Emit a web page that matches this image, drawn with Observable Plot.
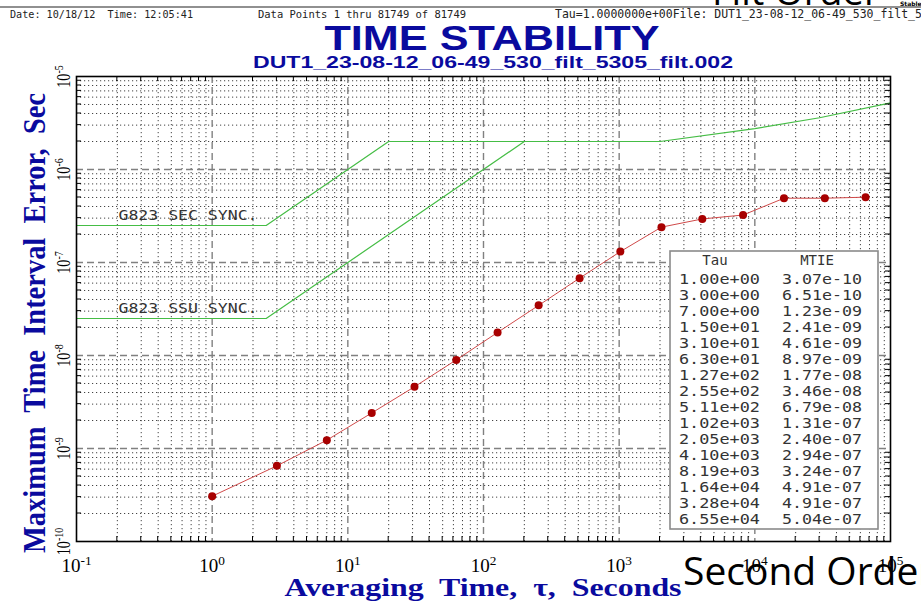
<!DOCTYPE html>
<html><head><meta charset="utf-8">
<script src="https://cdn.jsdelivr.net/npm/d3@7"></script>
<script src="https://cdn.jsdelivr.net/npm/@observablehq/plot@0.6"></script>
<style>html,body{margin:0;padding:0;background:#fff;overflow:hidden;} svg{display:block}</style>
</head><body><div id="chart"></div>
<script>
// ---- data ----
const tau  = [1, 3, 7, 15, 31, 63, 127, 255, 511, 1020, 2050, 4100, 8190, 16400, 32800, 65500];
const mtie = [3.07e-10, 6.51e-10, 1.23e-9, 2.41e-9, 4.61e-9, 8.97e-9, 1.77e-8, 3.46e-8, 6.79e-8, 1.31e-7, 2.40e-7, 2.94e-7, 3.24e-7, 4.91e-7, 4.91e-7, 5.04e-7];
const secMaskTau = [0.1, 2.5, 20, 2000, 10000, 30000, 100000];
const secMaskVal = [2.5e-7, 2.5e-7, 2e-6, 2e-6, 2.75e-6, 3.6e-6, 5.2e-6];
const ssuMaskTau = [0.1, 2.5, 200, 2000];
const ssuMaskVal = [2.5e-8, 2.5e-8, 2e-6, 2e-6];
const maskLabels = ["G823 SEC SYNC.", "G823 SSU SYNC."];
const xExponents = [-1, 0, 1, 2, 3, 4, 5];
const yExponents = [-10, -9, -8, -7, -6, -5];
const tableHeader = ["Tau", "MTIE"];

// ---- derived tables ----
const data = tau.map((t, i) => ({tau: t, mtie: mtie[i]}));
const sec = secMaskTau.map((t, i) => ({tau: t, v: secMaskVal[i]}));
const ssu = ssuMaskTau.map((t, i) => ({tau: t, v: ssuMaskVal[i]}));
const xMajor = xExponents.map(e => +("1e" + e));
const yMajor = yExponents.map(e => +("1e" + e));
const minorOf = exps => exps.slice(0, -1).flatMap(e => [2,3,4,5,6,7,8,9].map(m => +(m + "e" + e)));
const xMinor = minorOf(xExponents), yMinor = minorOf(yExponents);
const xInner = xMajor.slice(1, -1), yInner = yMajor.slice(1, -1);
const expFmt = v => { const [m, e] = v.toExponential(2).split("e"); const n = +e; return m + "e" + (n < 0 ? "-" : "+") + String(Math.abs(n)).padStart(2, "0"); };
const supFmt = d => "10^" + Math.round(Math.log10(d));

const BLUE = "#0a0a9e";
const SERIF = "'Liberation Serif', 'DejaVu Serif', serif";
const MONO = "'DejaVu Sans Mono', monospace";

const plot = Plot.plot({
  width: 921, height: 606,
  marginTop: 76, marginRight: 31, marginBottom: 65, marginLeft: 76,
  style: {background: "#fff"},
  x: {type: "log", domain: [0.1, 1e5]},
  y: {type: "log", domain: [1e-10, 1e-5]},
  marks: [
    Plot.ruleX(xMinor, {stroke: "#444", strokeDasharray: "1.2,2.8", strokeWidth: 1}),
    Plot.ruleY(yMinor, {stroke: "#444", strokeDasharray: "1.2,2.8", strokeWidth: 1}),
    Plot.ruleX(xInner, {stroke: "#808080", strokeDasharray: "7,4", strokeWidth: 1.4}),
    Plot.ruleY(yInner, {stroke: "#808080", strokeDasharray: "7,4", strokeWidth: 1.4}),
    Plot.line(sec, {x: "tau", y: "v", stroke: "#45bd45", strokeWidth: 1.2}),
    Plot.line(ssu, {x: "tau", y: "v", stroke: "#45bd45", strokeWidth: 1.2}),
    Plot.text(maskLabels, {y: [secMaskVal[0], ssuMaskVal[0]], text: d => d, frameAnchor: "left", dx: 42, dy: -5, lineAnchor: "bottom", textAnchor: "start", fontFamily: MONO, fontSize: 14, fill: "#333"}),
    Plot.line(data, {x: "tau", y: "mtie", stroke: "#d04a4a", strokeWidth: 1}),
    Plot.dot(data, {x: "tau", y: "mtie", r: 4, fill: "#a80000"}),
    Plot.frame({stroke: "#000", strokeWidth: 1.6}),
    Plot.axisX({ticks: xMajor, tickSize: 0, tickPadding: 17, fontSize: 19, fontFamily: SERIF, tickFormat: supFmt, label: null, fill: "#000"}),
    Plot.axisY({ticks: yMajor, tickSize: 0, tickPadding: 7, tickRotate: -90, fontSize: 19, fontFamily: SERIF, tickFormat: supFmt, label: null, fill: "#000"})
  ]
});
document.getElementById("chart").appendChild(plot);

const svg = d3.select(plot);
const sx = plot.scale("x"), sy = plot.scale("y");
const X = v => sx.apply(v), Y = v => sy.apply(v);
const L = X(xMajor[0]), R = X(xMajor[xMajor.length - 1]), B = Y(yMajor[0]), T = Y(yMajor[yMajor.length - 1]);

// superscripts for tick labels
function superscript(sel) {
  sel.each(function() {
    const s = this.textContent.split("^");
    const t = d3.select(this); t.text(null);
    t.append("tspan").text(s[0]);
    t.append("tspan").attr("dy", "-0.5em").attr("font-size", "0.7em").text(s[1]);
  });
}
superscript(svg.selectAll('g[aria-label="x-axis tick label"] text'));
superscript(svg.selectAll('g[aria-label="y-axis tick label"] text'));
svg.selectAll('g[aria-label="y-axis tick label"] text').each(function() {
  const tr = this.getAttribute("transform") || "";
  this.setAttribute("transform", tr + " scale(0.75,1)");
});
svg.selectAll('g[aria-label="text"] text').attr("textLength", 139).attr("lengthAdjust", "spacingAndGlyphs");

// inward frame ticks at minor positions
const tk = svg.append("g").attr("stroke", "#000").attr("stroke-width", 1);
xMinor.forEach(v => { const x = X(v);
  tk.append("line").attr("x1", x).attr("x2", x).attr("y1", B).attr("y2", B - 5);
  tk.append("line").attr("x1", x).attr("x2", x).attr("y1", T).attr("y2", T + 5); });
yMinor.forEach(v => { const y = Y(v);
  tk.append("line").attr("y1", y).attr("y2", y).attr("x1", L).attr("x2", L + 5);
  tk.append("line").attr("y1", y).attr("y2", y).attr("x1", R).attr("x2", R - 5); });

// legend table
const tb = svg.append("g");
tb.append("rect").attr("x", 670).attr("y", 251).attr("width", 208).attr("height", 278)
  .attr("fill", "#fff").attr("stroke", "#8a8a8a").attr("stroke-width", 1.6);
const tt = (x, y, s, anchor, len) => {
  const e = tb.append("text").attr("x", x).attr("y", y).attr("text-anchor", anchor)
    .attr("font-family", MONO).attr("font-size", 14).attr("fill", "#333").text(s);
  if (len) e.attr("textLength", len).attr("lengthAdjust", "spacingAndGlyphs");
};
tt(715, 265, tableHeader[0], "middle");
tt(817, 265, tableHeader[1], "middle");
data.forEach((d, i) => {
  tt(679, 284 + i * 16, expFmt(d.tau), "start", 81);
  tt(782, 284 + i * 16, expFmt(d.mtie), "start", 80);
});

// titles and annotations
const txt = (x, y, s, o) => {
  const e = svg.append("text").attr("x", x).attr("y", y).attr("text-anchor", "start").text(s);
  Object.entries(o).forEach(([k, v]) => e.attr(k, v));
  return e;
};
svg.append("line").attr("x1", 0).attr("x2", 921).attr("y1", 7).attr("y2", 7).attr("stroke", "#222").attr("stroke-width", 1.2);
txt(712, 5, "Filt Order", {"font-family": "'Open Sans', sans-serif", "font-size": 38, fill: "#000"});
txt(900, 6, "Stable", {"font-family": "'DejaVu Sans', sans-serif", "font-size": 6, "font-weight": "bold", fill: "#000"});
txt(10, 18, "Date: 10/18/12  Time: 12:05:41", {"font-family": MONO, "font-size": 10.5, fill: "#222", textLength: 183, lengthAdjust: "spacingAndGlyphs", "xml:space": "preserve"});
txt(258, 18, "Data Points 1 thru 81749 of 81749", {"font-family": MONO, "font-size": 10.5, fill: "#222", textLength: 208, lengthAdjust: "spacingAndGlyphs"});
txt(555, 18, "Tau=1.0000000e+00File: DUT1_23-08-12_06-49_530_filt_5305_filt.002", {"font-family": MONO, "font-size": 11.5, fill: "#222"});
txt(492, 50, "TIME STABILITY", {"font-family": "'Liberation Sans', Arial, sans-serif", "font-size": 35, "font-weight": "bold", fill: BLUE, "text-anchor": "middle", textLength: 335, lengthAdjust: "spacingAndGlyphs"});
txt(493, 68, "DUT1_23-08-12_06-49_530_filt_5305_filt.002", {"font-family": "'Liberation Sans', Arial, sans-serif", "font-size": 17, "font-weight": "bold", fill: BLUE, "text-anchor": "middle", textLength: 480, lengthAdjust: "spacingAndGlyphs"});
txt(0, 0, "Maximum  Time  Interval  Error,  Sec", {"font-family": SERIF, "font-size": 31, "font-weight": "bold", fill: BLUE, "text-anchor": "middle", transform: "translate(45,323) rotate(-90)", textLength: 460, lengthAdjust: "spacingAndGlyphs", "xml:space": "preserve"});
txt(483, 596, "Averaging  Time,  \u03c4,  Seconds", {"font-family": SERIF, "font-size": 26, "font-weight": "bold", fill: BLUE, "text-anchor": "middle", textLength: 397, lengthAdjust: "spacingAndGlyphs", "xml:space": "preserve"});
txt(683, 585, "Second Order", {"font-family": "'Open Sans', sans-serif", "font-size": 39, fill: "#000"});
</script>
</body></html>
